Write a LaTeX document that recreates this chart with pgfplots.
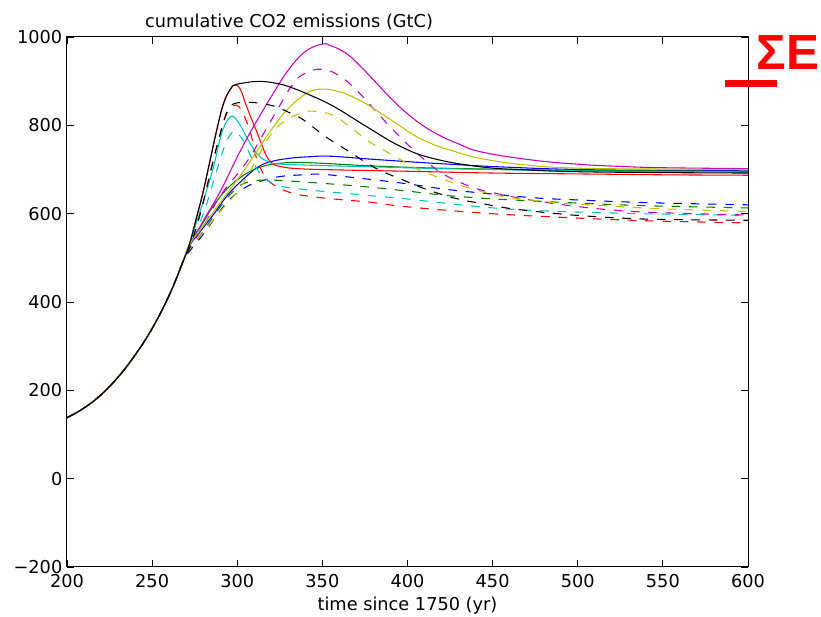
\documentclass[border=0pt]{standalone}
\usepackage{fontspec}
\setmainfont{DejaVu Sans}
\newfontfamily\sefont{Liberation Sans}
\usepackage{pgfplots}
\pgfplotsset{compat=1.18}
\definecolor{mb}{rgb}{0,0,1}
\definecolor{mg}{rgb}{0,0.5,0}
\definecolor{mr}{rgb}{1,0,0}
\definecolor{mc}{rgb}{0,0.75,0.75}
\definecolor{mm}{rgb}{0.75,0,0.75}
\definecolor{my}{rgb}{0.75,0.75,0}
\tikzset{dsh/.style={dash pattern=on 6.5pt off 6.5pt}}
\begin{document}
\begin{tikzpicture}
\useasboundingbox (-50.25pt,-37.5pt) rectangle (565.5pt,425.25pt);
\begin{axis}[
  scale only axis, width=510.75pt, height=397.5pt,
  at={(0pt,0pt)}, anchor=south west,
  xmin=200, xmax=600, ymin=-200, ymax=1000,
  xtick={200,250,...,600}, ytick={-200,0,...,1000},
  yticklabels={−200,0,200,400,600,800,1000},
  tick align=inside, major tick length=5pt,
  tick style={black, line width=0.6pt},
  axis line style={black, line width=0.75pt},
  /pgf/number format/assume math mode=true,
  /pgf/number format/1000 sep={},
  tick label style={font=\fontsize{13.3}{16}\selectfont},
  xticklabel style={yshift=-2pt},
  title={cumulative CO2 emissions (GtC)},
  every axis title/.style={at={(axis description cs:0.326,1)}, anchor=base, yshift=6.75pt, font=\fontsize{13.3}{16}\selectfont},
  xlabel={time since 1750 (yr)},
  every axis x label/.style={at={(axis description cs:0.5,0)}, anchor=base, yshift=-33pt, font=\fontsize{13.3}{16}\selectfont},
  every axis plot/.append style={line width=0.8pt, smooth, tension=0.7},
  no marks,
]
% blue
\addplot[mb] coordinates {(200,138) (210,160) (220,190) (230,230) (240,280) (250,340) (260,415) (268,490) (272,528) (280,568) (286,598) (295,645) (305,683) (312,705) (319,717) (330,725) (343,729) (355,730) (380,723) (420,713) (460,705) (500,700) (550,698) (600,697)};
\addplot[mb,dsh] coordinates {(200,138) (210,160) (220,190) (230,230) (240,280) (250,340) (260,415) (268,490) (272,515) (280,553) (286,585) (295,630) (305,660) (315,675) (325,684) (339,688) (350,689) (370,681) (397,669) (423,655) (443,647) (474,636) (500,631) (525,627) (550,624) (600,620)};
% green
\addplot[mg] coordinates {(200,138) (210,160) (220,190) (230,230) (240,280) (250,340) (260,415) (268,490) (272,530) (280,580) (286,618) (295,660) (305,690) (315,707) (325,714) (335,716) (350,714) (380,708) (420,703) (500,698) (550,697) (600,696)};
\addplot[mg,dsh] coordinates {(200,138) (210,160) (220,190) (230,230) (240,280) (250,340) (260,415) (268,490) (272,518) (280,560) (290,615) (298,652) (305,670) (315,676) (330,674) (349,669) (375,661) (398,652) (421,642) (440,636) (462,631) (500,624) (525,620) (550,617) (600,613)};
% red
\addplot[mr] coordinates {(200,138) (210,160) (220,190) (230,230) (240,280) (250,340) (260,415) (268,490) (272,532) (276,590) (280,650) (284,720) (288,790) (292,850) (296,882) (299,892) (302,880) (305,848) (308,818) (311,790) (314,760) (317,732) (320,716) (324,708) (335,702) (360,699) (400,696) (450,692) (500,690) (550,688) (600,687)};
\addplot[mr,dsh] coordinates {(200,138) (210,160) (220,190) (230,230) (240,280) (250,340) (260,415) (268,490) (272,522) (276,570) (280,625) (284,690) (288,752) (292,808) (295,835) (298,845) (301,842) (304,822) (308,780) (311,730) (314,700) (317,682) (321,666) (331,648) (343,639) (360,632) (378,626) (396,617) (425,607) (458,598) (500,590) (525,586) (550,583) (600,579)};
% cyan
\addplot[mc] coordinates {(200,138) (210,160) (220,190) (230,230) (240,280) (250,340) (260,415) (268,490) (272,532) (276,580) (281,640) (286,705) (290,770) (293,803) (296,819) (298,819) (301,805) (305,777) (309,750) (313,730) (318,718) (323,713) (340,710) (380,706) (420,702) (500,697) (600,694)};
\addplot[mc,dsh] coordinates {(200,138) (210,160) (220,190) (230,230) (240,280) (250,340) (260,415) (268,490) (272,520) (276,558) (282,622) (288,698) (293,757) (297,784) (300,783) (304,762) (307,738) (311,705) (315,685) (320,670) (325,662) (341,654) (349,651) (378,641) (398,634) (419,625) (439,617) (470,608) (525,601) (550,599) (600,596)};
% magenta
\addplot[mm] coordinates {(200,138) (210,160) (220,190) (230,230) (240,280) (250,340) (260,415) (268,490) (272,530) (276,556) (281,590) (290,650) (301,736) (310,800) (320,865) (330,925) (340,967) (350,984) (355,980) (360,972) (365,960) (370,943) (380,903) (390,862) (400,826) (410,797) (420,775) (430,758) (443,740) (472,722) (500,712) (525,707) (550,704) (600,702)};
\addplot[mm,dsh] coordinates {(200,138) (210,160) (220,190) (230,230) (240,280) (250,340) (260,415) (268,490) (272,522) (280,570) (290,640) (305,714) (315,778) (325,845) (333,895) (340,918) (350,927) (360,912) (370,880) (380,838) (390,796) (400,757) (410,722) (420,692) (432,669) (442,655) (452,646) (472,631) (500,616) (525,607) (550,602) (600,597)};
% yellow
\addplot[my] coordinates {(200,138) (210,160) (220,190) (230,230) (240,280) (250,340) (260,415) (268,490) (272,530) (281,578) (290,625) (301,682) (310,732) (320,790) (330,838) (341,873) (350,882) (360,876) (368,864) (376,848) (384,828) (395,800) (405,775) (415,757) (425,744) (443,725) (470,710) (500,703) (550,701) (600,700)};
\addplot[my,dsh] coordinates {(200,138) (210,160) (220,190) (230,230) (240,280) (250,340) (260,415) (268,490) (272,520) (281,562) (290,605) (300,650) (306,685) (312,728) (319,775) (327,807) (337,827) (345,832) (356,823) (366,797) (376,767) (386,744) (396,722) (407,699) (421,678) (432,663) (452,642) (470,632) (494,623) (525,616) (550,611) (600,605)};
% black
\addplot[black] coordinates {(200,138) (210,160) (220,190) (230,230) (240,280) (250,340) (260,415) (268,490) (272,532) (276,590) (280,650) (284,720) (288,790) (292,850) (296,882) (299,892) (304,896) (310,899) (316,899) (323,895) (330,888) (343,868) (357,842) (376,797) (396,752) (415,725) (443,706) (470,699) (500,695) (550,693) (600,692)};
\addplot[black,dsh] coordinates {(200,138) (210,160) (220,190) (230,230) (240,280) (250,340) (260,415) (268,490) (272,522) (276,570) (280,625) (284,690) (288,752) (292,808) (295,838) (299,850) (307,852) (313,850) (319,846) (323,842) (331,828) (339,812) (352,774) (366,740) (378,710) (388,691) (397,677) (404,665) (418,646) (431,632) (445,622) (458,613) (475,605) (488,600) (500,596) (525,590) (550,587) (600,585)};
\end{axis}
\node[anchor=base west, inner sep=0pt, text=mr, font=\sefont\bfseries\fontsize{37}{40}\selectfont] at (517pt,372.75pt) {ΣE};
\fill[mr] (493.5pt,360pt) rectangle (532.5pt,365.25pt);
\end{tikzpicture}
\end{document}
